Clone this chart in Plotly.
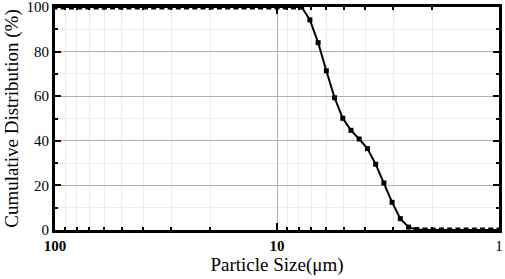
import plotly.graph_objects as go

# Particle size (µm), from coarse to fine
size_um = [100.0, 91.825, 84.319, 77.426, 71.097, 65.285, 59.948, 55.048, 50.548, 46.416,
           42.622, 39.137, 35.938, 33.001, 30.303, 27.826, 25.551, 23.462, 21.544, 19.783,
           18.166, 16.681, 15.317, 14.065, 12.915, 11.860, 10.890, 10.000, 9.1825, 8.4319,
           7.7426, 7.1097, 6.5285, 5.9948, 5.5048, 5.0548, 4.6416, 4.2622, 3.9137, 3.5938,
           3.3001, 3.0303, 2.7826, 2.5551, 2.3462, 2.1544, 1.9783, 1.8166, 1.6681, 1.5317,
           1.4065, 1.2915, 1.1860, 1.0890, 1.000]

# Cumulative distribution (%)
cumulative_pct = [100, 100, 100, 100, 100, 100, 100, 100, 100, 100,
                  100, 100, 100, 100, 100, 100, 100, 100, 100, 100,
                  100, 100, 100, 100, 100, 100, 100, 100, 100, 100,
                  100, 94.2, 84.0, 71.4, 59.3, 50.1, 44.7, 40.8, 36.5, 29.5,
                  21.1, 12.4, 5.1, 1.3, 0.2, 0, 0, 0, 0, 0,
                  0, 0, 0, 0, 0]

x_tick_vals = [100, 10, 1]
x_tick_text = ["<b>100</b>", "<b>10</b>", "1"]
x_minor_vals = [90, 80, 70, 60, 50, 40, 30, 20, 9, 8, 7, 6, 5, 4, 3, 2]
y_tick_vals = [0, 20, 40, 60, 80, 100]
y_minor_vals = [10, 30, 50, 70, 90]

font_family = "Liberation Serif"

fig = go.Figure()
fig.add_trace(go.Scatter(
    x=size_um, y=cumulative_pct, mode="lines+markers",
    line=dict(color="black", width=2),
    marker=dict(symbol="square", size=5, color="black"),
    cliponaxis=False, showlegend=False,
))

fig.update_layout(
    width=505, height=279,
    margin=dict(l=55, r=6, t=7, b=49),
    paper_bgcolor="white", plot_bgcolor="white",
    font=dict(family=font_family, color="black", size=15),
)

fig.update_xaxes(
    type="log", range=[2, 0], automargin=False,
    tickvals=x_tick_vals, ticktext=x_tick_text,
    ticks="inside", ticklen=7, tickwidth=2, tickcolor="black",
    showline=True, linewidth=3, linecolor="black", mirror="allticks",
    showgrid=True, gridcolor="#b0b0b0", gridwidth=1.2,
    minor=dict(tickvals=x_minor_vals, ticks="inside", ticklen=3, tickwidth=2,
               tickcolor="black", showgrid=True, gridcolor="#ececec", gridwidth=1),
    tickfont=dict(size=15, family=font_family),
    ticklabeloverflow="allow",
    title=dict(text="Particle Size(μm)", font=dict(size=19, family=font_family), standoff=1),
    zeroline=False,
)

fig.update_yaxes(
    range=[0, 100], automargin=False,
    tickvals=y_tick_vals,
    ticks="inside", ticklen=6, tickwidth=2, tickcolor="black",
    showline=True, linewidth=3, linecolor="black", mirror="allticks",
    showgrid=True, gridcolor="#b0b0b0", gridwidth=1.2,
    minor=dict(tickvals=y_minor_vals, ticks="inside", ticklen=3, tickwidth=2,
               tickcolor="black", showgrid=True, gridcolor="#ececec", gridwidth=1),
    tickfont=dict(size=15, family=font_family),
    ticklabeloverflow="allow",
    title=dict(text="Cumulative Distribution (%)", font=dict(size=19, family=font_family), standoff=3),
    zeroline=False,
)

fig.write_html("out.html",
               config={"displayModeBar": False},
               post_script="document.body.style.margin='0';document.body.style.overflow='hidden';")
